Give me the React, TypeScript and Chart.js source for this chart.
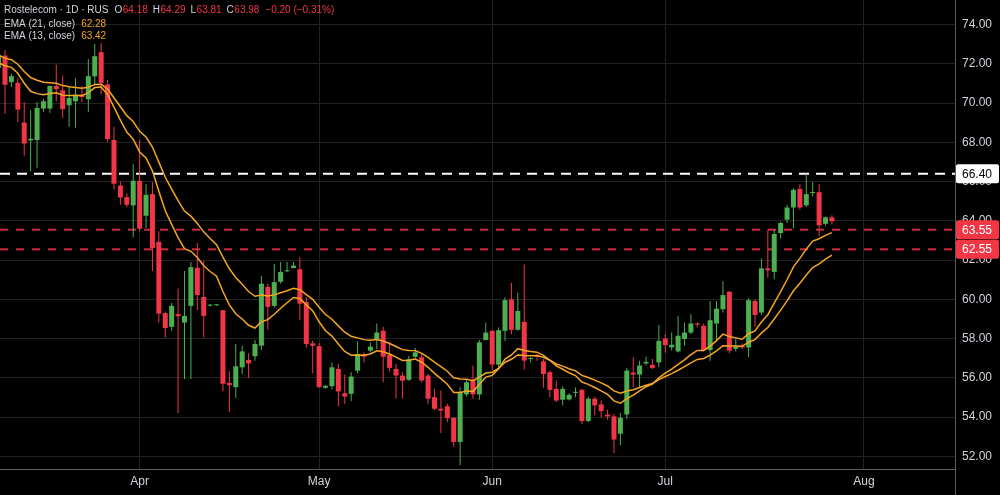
import React, { useEffect, useRef } from "react";
import { Chart, registerables } from "chart.js";

Chart.register(...registerables);

// ---------- data ----------
const symbolTitle = "Rostelecom · 1D · RUS";
const firstIndex = -1; // first (partly hidden) candle sits one step left of index 0

const opens = [
  71.80, 72.42, 71.07, 71.03, 69.01, 68.10, 68.12, 69.72, 69.72, 70.87,
  70.65, 69.89, 70.09, 70.43, 70.19, 71.36, 72.59, 70.95, 68.12, 65.80,
  65.21, 64.79, 66.04, 64.26, 65.36, 62.93, 59.30, 58.60, 59.25, 58.82,
  59.67, 61.61, 60.12, 59.68, 59.70, 59.45, 55.75, 55.53, 56.54, 56.91,
  57.10, 57.64, 60.64, 59.67, 60.90, 61.43, 61.60, 61.53, 59.87, 57.76,
  57.62, 55.50, 55.58, 56.46, 55.22, 55.19, 56.37, 57.22, 57.39, 57.94,
  58.40, 57.18, 56.46, 56.12, 55.90, 57.08, 57.05, 56.12, 55.02, 54.43,
  54.56, 53.97, 52.74, 55.16, 55.90, 55.16, 57.93, 58.40, 56.68, 58.40,
  60.00, 58.45, 58.86, 56.96, 57.18, 56.84, 56.29, 55.44, 54.89, 54.90,
  55.24, 55.39, 53.80, 54.94, 54.65, 54.13, 54.04, 53.16, 54.14, 56.27,
  56.17, 56.74, 56.66, 56.79, 58.00, 57.56, 57.35, 57.98, 58.31, 58.77,
  58.65, 57.42, 58.77, 59.50, 60.39, 57.48, 57.62, 57.55, 59.92, 59.33,
  61.58, 61.40, 63.38, 64.06, 64.68, 65.63, 64.79, 65.42, 65.46, 63.85,
  64.18,
];
const highs = [
  72.90, 72.70, 71.49, 71.27, 70.06, 69.64, 70.06, 70.22, 70.90, 71.95,
  71.41, 70.82, 71.27, 70.87, 72.25, 73.01, 73.05, 71.16, 68.79, 66.00,
  65.41, 66.88, 68.12, 65.87, 65.97, 63.47, 59.38, 59.83, 60.56, 61.44,
  61.91, 62.87, 61.94, 59.76, 59.74, 59.45, 56.34, 57.73, 57.64, 57.25,
  57.93, 61.19, 60.80, 61.81, 61.91, 61.91, 61.90, 62.15, 60.12, 57.89,
  57.76, 55.62, 56.79, 56.71, 56.17, 56.29, 57.86, 57.30, 57.81, 58.77,
  58.60, 57.81, 56.71, 56.29, 57.13, 57.52, 57.22, 56.20, 55.45, 55.36,
  54.68, 54.00, 55.53, 55.95, 56.63, 57.93, 58.82, 58.43, 58.57, 60.09,
  60.85, 60.34, 61.78, 57.05, 57.22, 56.96, 56.37, 55.87, 55.56, 55.22,
  55.53, 55.44, 55.05, 55.05, 54.85, 54.38, 54.18, 54.21, 56.51, 57.05,
  56.88, 57.08, 56.96, 58.70, 58.23, 58.31, 59.16, 58.82, 59.24, 58.82,
  58.77, 59.92, 59.92, 60.93, 60.43, 58.00, 57.75, 60.06, 60.00, 62.08,
  63.55, 63.55, 63.97, 64.82, 65.66, 65.87, 66.40, 65.97, 65.87, 64.22,
  64.29,
];
const lows = [
  71.60, 69.46, 70.82, 69.04, 67.32, 66.51, 66.71, 69.55, 69.51, 70.09,
  69.25, 68.79, 68.74, 70.06, 69.55, 70.90, 70.43, 68.03, 65.58, 64.82,
  64.70, 63.16, 63.47, 63.63, 61.44, 58.82, 58.06, 58.40, 54.21, 55.95,
  55.95, 59.45, 58.06, 59.64, 59.66, 55.32, 54.26, 54.99, 56.20, 56.00,
  56.88, 57.42, 58.45, 59.58, 60.80, 61.38, 61.58, 58.94, 57.52, 56.24,
  55.50, 55.45, 55.41, 54.56, 54.68, 54.82, 56.24, 56.79, 57.30, 57.47,
  55.78, 56.34, 54.94, 54.94, 55.86, 57.02, 55.78, 54.68, 54.35, 53.20,
  53.75, 52.48, 51.56, 55.04, 54.94, 54.89, 57.90, 56.41, 56.41, 57.89,
  58.23, 58.40, 56.41, 56.79, 56.88, 55.50, 55.02, 54.77, 54.60, 54.85,
  55.02, 53.64, 53.75, 54.09, 53.97, 53.87, 52.18, 52.57, 53.92, 55.53,
  55.53, 56.63, 56.46, 56.54, 57.30, 57.39, 57.30, 57.64, 58.23, 58.57,
  57.35, 56.88, 57.89, 59.33, 57.25, 57.35, 57.47, 57.07, 58.60, 59.21,
  61.10, 61.02, 63.10, 63.89, 63.63, 64.57, 64.70, 65.24, 63.21, 63.76,
  63.81,
];
const closes = [
  72.45, 70.93, 71.37, 69.67, 67.94, 68.18, 69.75, 70.09, 70.87, 70.70,
  69.69, 70.26, 70.43, 70.31, 71.37, 72.39, 71.03, 68.17, 65.89, 65.19,
  64.82, 66.04, 63.60, 65.33, 62.62, 59.28, 58.54, 59.67, 59.14, 59.16,
  61.64, 60.22, 59.16, 59.72, 59.70, 55.70, 55.63, 56.59, 57.35, 56.74,
  57.73, 60.80, 59.62, 60.88, 61.40, 61.48, 61.72, 59.78, 57.73, 57.64,
  55.53, 55.60, 56.54, 55.31, 55.05, 56.07, 57.22, 57.08, 57.59, 58.31,
  57.08, 56.51, 56.12, 55.86, 56.96, 57.30, 55.87, 54.94, 54.43, 54.34,
  53.95, 52.74, 55.27, 55.78, 55.16, 57.81, 58.31, 56.68, 58.43, 59.96,
  58.45, 59.41, 56.88, 57.00, 57.08, 56.20, 55.39, 54.85, 55.44, 55.14,
  55.29, 53.80, 54.94, 54.60, 54.31, 54.04, 52.86, 53.97, 56.37, 56.17,
  56.63, 56.82, 56.51, 57.89, 57.67, 57.69, 58.15, 58.31, 58.77, 58.71,
  57.42, 58.94, 59.53, 60.22, 57.39, 57.60, 57.55, 59.96, 59.21, 61.58,
  61.48, 63.33, 63.89, 64.68, 65.58, 64.68, 65.36, 65.45, 63.77, 64.18,
  63.98,
];

const ema13 = [
  72.06, 71.90, 71.82, 71.52, 71.01, 70.60, 70.48, 70.43, 70.49, 70.52,
  70.40, 70.38, 70.39, 70.38, 70.52, 70.79, 70.82, 70.44, 69.79, 69.13,
  68.52, 68.16, 67.51, 67.20, 66.55, 65.51, 64.51, 63.82, 63.15, 62.58,
  62.45, 62.13, 61.71, 61.42, 61.18, 60.40, 59.72, 59.27, 59.00, 58.68,
  58.54, 58.86, 58.97, 59.24, 59.55, 59.83, 60.10, 60.05, 59.72, 59.42,
  58.86, 58.40, 58.13, 57.73, 57.35, 57.16, 57.17, 57.16, 57.22, 57.38,
  57.33, 57.22, 57.06, 56.89, 56.90, 56.96, 56.80, 56.54, 56.23, 55.96,
  55.68, 55.26, 55.26, 55.33, 55.31, 55.67, 56.04, 56.13, 56.46, 56.96,
  57.17, 57.49, 57.40, 57.35, 57.31, 57.15, 56.90, 56.61, 56.44, 56.26,
  56.12, 55.79, 55.67, 55.51, 55.34, 55.16, 54.83, 54.71, 54.95, 55.12,
  55.34, 55.55, 55.69, 56.00, 56.24, 56.45, 56.69, 56.92, 57.19, 57.40,
  57.40, 57.62, 57.90, 58.23, 58.11, 58.04, 57.97, 58.25, 58.39, 58.85,
  59.22, 59.81, 60.39, 61.00, 61.66, 62.09, 62.56, 62.97, 63.09, 63.26,
  63.40,
];
const ema21 = [
  72.43, 72.29, 72.21, 71.98, 71.61, 71.30, 71.16, 71.06, 71.04, 71.01,
  70.89, 70.83, 70.79, 70.75, 70.81, 70.95, 70.96, 70.71, 70.27, 69.81,
  69.36, 69.06, 68.56, 68.27, 67.76, 66.99, 66.22, 65.62, 65.03, 64.50,
  64.24, 63.87, 63.44, 63.10, 62.79, 62.15, 61.56, 61.11, 60.77, 60.40,
  60.16, 60.22, 60.17, 60.23, 60.34, 60.44, 60.56, 60.49, 60.24, 60.00,
  59.60, 59.23, 58.99, 58.65, 58.33, 58.12, 58.04, 57.95, 57.92, 57.96,
  57.88, 57.75, 57.60, 57.44, 57.40, 57.39, 57.25, 57.04, 56.80, 56.58,
  56.34, 56.01, 55.94, 55.93, 55.86, 56.04, 56.25, 56.29, 56.48, 56.80,
  56.95, 57.17, 57.14, 57.13, 57.13, 57.05, 56.90, 56.71, 56.60, 56.47,
  56.36, 56.13, 56.02, 55.89, 55.75, 55.59, 55.34, 55.22, 55.33, 55.40,
  55.51, 55.63, 55.71, 55.91, 56.07, 56.22, 56.39, 56.57, 56.77, 56.94,
  56.99, 57.16, 57.38, 57.64, 57.62, 57.62, 57.61, 57.82, 57.95, 58.28,
  58.57, 59.00, 59.45, 59.92, 60.44, 60.82, 61.24, 61.62, 61.81, 62.05,
  62.26,
];

const emaLegendLabels = ["EMA (21, close)", "EMA (13, close)"];
const emaLegendValues = [62.28, 63.42];

const monthTickIndex = [21, 49, 76, 103, 134];
const monthTickLabels = ["Apr", "May", "Jun", "Jul", "Aug"];
const priceTicks = [52, 54, 56, 58, 60, 62, 64, 66, 68, 70, 72, 74];

const levelWhite = 66.4;
const levelsRed = [63.55, 62.55];

// ---------- style ----------
const FONT = '"Liberation Sans", Arial, Helvetica, sans-serif';
const BG = "#000000";
const GRID = "#222222";
const AXIS_LINE = "#5c5c5c";
const TEXT = "#d1d4dc";
const UP = "#4caf50";
const DOWN = "#f23645";
const EMA_COLOR = "#f5a623";
const LEVEL_RED = "rgba(242, 54, 69, 0.85)";

const X_MIN = -0.78;
const X_MAX = 148.2;
const Y_MIN = 51.36;
const Y_MAX = 75.25;

const fmt = (v: number) => v.toFixed(2);
const signed = (v: number) => (v < 0 ? "\u2212" : "+") + Math.abs(v).toFixed(2);

const overlayPlugin = {
  id: "overlay",
  beforeDraw(chart: any) {
    const { ctx, width, height } = chart;
    ctx.save();
    ctx.fillStyle = BG;
    ctx.fillRect(0, 0, width, height);
    ctx.restore();
  },
  afterDraw(chart: any) {
    const { ctx, chartArea } = chart;
    const yScale = chart.scales.y;
    ctx.save();
    ctx.strokeStyle = AXIS_LINE;
    ctx.lineWidth = 1;
    ctx.beginPath();
    ctx.moveTo(chartArea.right + 0.5, chartArea.bottom);
    ctx.lineTo(chartArea.right + 0.5, chart.height);
    ctx.stroke();

    const tag = (value: number, bg: string, fg: string) => {
      const py = yScale.getPixelForValue(value);
      ctx.fillStyle = bg;
      ctx.beginPath();
      if (typeof ctx.roundRect === "function") {
        ctx.roundRect(chartArea.right + 1, py - 9.5, 43, 19, 2);
      } else {
        ctx.rect(chartArea.right + 1, py - 9.5, 43, 19);
      }
      ctx.fill();
      ctx.fillStyle = fg;
      ctx.font = `12px ${FONT}`;
      ctx.textBaseline = "middle";
      ctx.textAlign = "left";
      ctx.fillText(fmt(value), chartArea.right + 7, py + 0.5);
    };
    tag(levelWhite, "#ffffff", "#000000");
    levelsRed.forEach((v) => tag(v, DOWN, "#ffffff"));

    const last = closes.length - 1;
    const change = closes[last] - closes[last - 1];
    const pct = (change / closes[last - 1]) * 100;
    ctx.font = `10px ${FONT}`;
    ctx.textBaseline = "middle";
    ctx.textAlign = "left";
    const flow = (parts: [string, string, number][], y: number) => {
      let x = 4;
      for (const [text, color, gapAfter] of parts) {
        ctx.fillStyle = color;
        ctx.fillText(text, x, y);
        x += ctx.measureText(text).width + gapAfter;
      }
    };
    flow(
      [
        [symbolTitle, TEXT, 6],
        ["O", TEXT, 0.5],
        [fmt(opens[last]), DOWN, 5],
        ["H", TEXT, 0.5],
        [fmt(highs[last]), DOWN, 5],
        ["L", TEXT, 0.5],
        [fmt(lows[last]), DOWN, 5],
        ["C", TEXT, 0.5],
        [fmt(closes[last]), DOWN, 6],
        [`${signed(change)} (${signed(pct)}%)`, DOWN, 0],
      ],
      10
    );
    emaLegendLabels.forEach((label, k) => {
      flow(
        [
          [label, TEXT, 6],
          [fmt(emaLegendValues[k]), EMA_COLOR, 0],
        ],
        24 + k * 12
      );
    });
    ctx.restore();
  },
};

export default function App() {
  const canvasRef = useRef<HTMLCanvasElement | null>(null);

  useEffect(() => {
    document.body.style.margin = "0";
    document.body.style.background = BG;
    const canvas = canvasRef.current;
    if (!canvas) return;

    const xs = opens.map((_, k) => firstIndex + k);
    const colors = opens.map((o, k) => (closes[k] >= o ? UP : DOWN));

    const levelLine = (v: number, color: string, dash: number[]) => ({
      type: "line" as const,
      data: [
        { x: X_MIN, y: v },
        { x: X_MAX, y: v },
      ],
      borderColor: color,
      borderWidth: 2,
      borderDash: dash,
      pointRadius: 0,
      order: 6,
    });

    const chart = new Chart(canvas, {
      type: "bar",
      data: {
        datasets: [
          {
            type: "line",
            label: "EMA 13",
            data: xs.map((x, k) => ({ x, y: ema13[k] })),
            borderColor: EMA_COLOR,
            borderWidth: 1.5,
            pointRadius: 0,
            tension: 0,
            order: 1,
          },
          {
            type: "line",
            label: "EMA 21",
            data: xs.map((x, k) => ({ x, y: ema21[k] })),
            borderColor: EMA_COLOR,
            borderWidth: 1.5,
            pointRadius: 0,
            tension: 0,
            order: 1,
          },
          {
            type: "bar",
            label: "body",
            data: xs.map((x, k) => ({ x, y: [opens[k], closes[k]] })),
            backgroundColor: colors,
            borderWidth: 0,
            grouped: false,
            barThickness: 5,
            maxBarThickness: 5,
            minBarLength: 1,
            inflateAmount: 0,
            order: 3,
          } as any,
          {
            type: "bar",
            label: "wick",
            data: xs.map((x, k) => ({ x, y: [lows[k], highs[k]] })),
            backgroundColor: colors,
            borderWidth: 0,
            grouped: false,
            barThickness: 1,
            maxBarThickness: 1,
            inflateAmount: 0,
            order: 4,
          } as any,
          levelLine(levelWhite, "#ffffff", [10, 7]),
          ...levelsRed.map((v) => levelLine(v, LEVEL_RED, [8, 8])),
        ],
      },
      options: {
        responsive: false,
        maintainAspectRatio: false,
        animation: false,
        events: [],
        layout: { padding: 0 },
        plugins: {
          legend: { display: false },
          tooltip: { enabled: false },
        },
        scales: {
          x: {
            type: "linear",
            min: X_MIN,
            max: X_MAX,
            offset: false,
            grid: { color: GRID, drawTicks: false, offset: false },
            border: { display: true, color: AXIS_LINE },
            ticks: {
              color: TEXT,
              font: { size: 12, family: FONT },
              padding: 5,
              autoSkip: false,
              maxRotation: 0,
              callback: (value: any) => {
                const k = monthTickIndex.indexOf(Number(value));
                return k >= 0 ? monthTickLabels[k] : "";
              },
            },
            afterBuildTicks: (scale: any) => {
              scale.ticks = monthTickIndex.map((v) => ({ value: v }));
            },
            afterFit: (scale: any) => {
              scale.height = 26;
              scale.paddingLeft = 0;
              scale.paddingRight = 0;
            },
          },
          y: {
            type: "linear",
            position: "right",
            min: Y_MIN,
            max: Y_MAX,
            grid: { color: GRID, drawTicks: false },
            border: { display: true, color: AXIS_LINE },
            ticks: {
              color: TEXT,
              font: { size: 12, family: FONT },
              padding: 7,
              callback: (value: any) => Number(value).toFixed(2),
            },
            afterBuildTicks: (scale: any) => {
              scale.ticks = priceTicks.map((v) => ({ value: v }));
            },
            afterFit: (scale: any) => {
              scale.width = 45;
              scale.paddingTop = 0;
              scale.paddingBottom = 0;
            },
          },
        },
      } as any,
      plugins: [overlayPlugin],
    });

    return () => chart.destroy();
  }, []);

  return (
    <div style={{ width: 1000, height: 495, background: BG }}>
      <canvas
        ref={canvasRef}
        width={1000}
        height={495}
        style={{ display: "block", width: 1000, height: 495 }}
      />
    </div>
  );
}
